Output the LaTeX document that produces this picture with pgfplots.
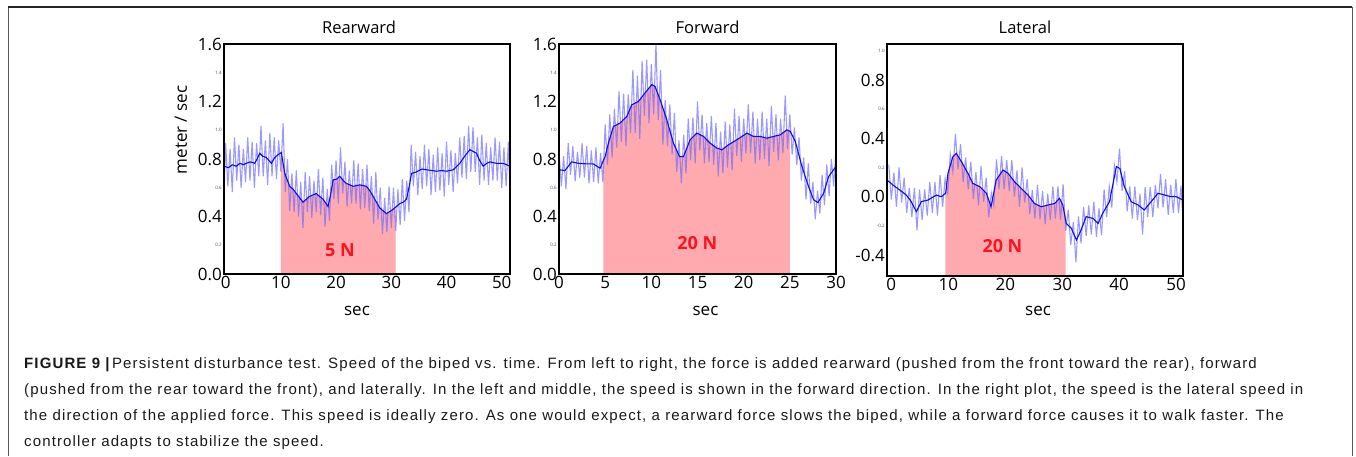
\documentclass[border=0pt]{standalone}
\usepackage{pgfplots}
\pgfplotsset{compat=1.18}
\usepackage{fontspec}
\setmainfont{Liberation Sans}
\newfontfamily\plotfont{Open Sans}
\newfontfamily\capfont[LetterSpace=7.5]{Liberation Sans}
\definecolor{fillpink}{RGB}{255,170,175}
\definecolor{lightline}{RGB}{110,110,255}
\definecolor{darkline}{RGB}{10,10,235}
\definecolor{redtxt}{RGB}{250,20,30}
\pgfplotsset{
  myaxis/.style={
    scale only axis, anchor=south west,
    axis line style={line width=1.5pt, black},
    major tick length=0pt,
    tick label style={font=\plotfont\fontsize{17}{17}\selectfont, inner sep=2pt},
    extra y tick style={tick label style={font=\plotfont\fontsize{4.5}{5}\selectfont, text=black!70}},
    title style={font=\plotfont\fontsize{16.5}{17}\selectfont, at={(0.5,1)}, anchor=base, yshift=5pt},
    xlabel style={font=\plotfont\fontsize{17}{17}\selectfont, inner sep=0pt, at={(0.5,0)}, anchor=base, yshift=-41pt},
    axis on top,
  },
  noisy/.style={lightline, line width=1.1pt, opacity=0.7, no marks},
  smooth1/.style={darkline, line width=1.1pt, no marks},
}
\begin{document}
\begin{tikzpicture}[x=1pt,y=1pt]
\useasboundingbox (0,0) rectangle (1356,-456);
% frame
\draw[black!65, line width=0.9pt] (8,-7) -- (8,-456);
\draw[black!65, line width=0.9pt] (1352,-7) -- (1352,-456);
\draw[black!85, line width=1.3pt] (8,-7) -- (1352,-7);

% ---------------- Rearward ----------------
\begin{axis}[myaxis, at={(224pt,-274pt)}, width=286pt, height=230pt,
  xmin=-0.3, xmax=51.5, ymin=0, ymax=1.6,
  xtick={0,10,20,30,40,50}, xticklabels={0,10,20,30,40,50},
  ytick={0,0.4,0.8,1.2,1.6}, yticklabels={0.0,0.4,0.8,1.2,1.6},
  extra y ticks={0.2,0.6,1.0,1.4}, extra y tick labels={0.2,0.6,1.0,1.4},
  title={Rearward}, title style={xshift=-8pt}, xlabel={sec}, xlabel style={xshift=-10pt}]
\addplot[fill=fillpink, draw=none] coordinates {(10.0,0)(10.0,0.84)(10.09,0.845)(10.7,0.70)(11.6,0.61)(12.2,0.59)(12.8,0.56)(13.4,0.53)(14.0,0.50)(14.6,0.52)(15.2,0.54)(16.4,0.56)(17.0,0.54)(17.65,0.52)(18.55,0.47)(19.0,0.55)(19.46,0.655)(20.1,0.66)(20.67,0.68)(21.3,0.65)(21.87,0.63)(22.5,0.62)(23.08,0.61)(24.29,0.62)(25.5,0.61)(26.1,0.58)(26.71,0.54)(27.3,0.50)(27.92,0.46)(28.5,0.44)(29.13,0.42)(30.33,0.45)(30.8,0.465)(30.8,0)} -- cycle;
\addplot[noisy] coordinates {(-0.3,0.56)(0,0.91)(0.4,0.61)(0.8,0.87)(1.2,0.57)(1.6,0.95)(2,0.65)(2.4,0.90)(2.8,0.60)(3.2,0.87)(3.6,0.64)(4,0.95)(4.4,0.65)(4.8,0.92)(5.2,0.60)(5.6,0.91)(6,0.68)(6.4,1.03)(6.8,0.68)(7.2,0.93)(7.6,0.62)(8,0.98)(8.4,0.68)(8.8,0.95)(9.2,0.66)(9.6,0.93)(10,0.71)(10.4,1.05)(10.8,0.57)(11.2,0.80)(11.6,0.44)(12,0.70)(12.4,0.43)(12.8,0.72)(13.2,0.40)(13.6,0.64)(14,0.32)(14.4,0.71)(14.8,0.43)(15.2,0.68)(15.6,0.39)(16,0.65)(16.4,0.43)(16.8,0.73)(17.2,0.41)(17.6,0.67)(18,0.33)(18.4,0.59)(18.8,0.37)(19.2,0.76)(19.6,0.52)(20,0.79)(20.4,0.49)(20.8,0.88)(21.2,0.56)(21.6,0.78)(22,0.47)(22.4,0.72)(22.8,0.49)(23.2,0.79)(23.6,0.49)(24,0.77)(24.4,0.45)(24.8,0.73)(25.2,0.46)(25.6,0.76)(26,0.44)(26.4,0.68)(26.8,0.35)(27.2,0.71)(27.6,0.38)(28,0.60)(28.4,0.28)(28.8,0.53)(29.2,0.29)(29.6,0.61)(30,0.32)(30.4,0.60)(30.8,0.30)(31.2,0.59)(31.6,0.34)(32,0.66)(32.4,0.37)(32.8,0.65)(33.2,0.43)(33.6,0.90)(34,0.61)(34.4,0.85)(34.8,0.55)(35.2,0.82)(35.6,0.59)(36,0.90)(36.4,0.61)(36.8,0.87)(37.2,0.55)(37.6,0.83)(38,0.57)(38.4,0.88)(38.8,0.58)(39.2,0.84)(39.6,0.54)(40,0.92)(40.4,0.62)(40.8,0.86)(41.2,0.57)(41.6,0.84)(42,0.63)(42.4,0.95)(42.8,0.67)(43.2,0.96)(43.6,0.66)(44,1.03)(44.4,0.71)(44.8,1.02)(45.2,0.71)(45.6,0.95)(46,0.62)(46.4,0.97)(46.8,0.65)(47.2,0.91)(47.6,0.62)(48,0.88)(48.4,0.65)(48.8,0.95)(49.2,0.65)(49.6,0.92)(50,0.60)(50.4,0.88)(50.8,0.61)(51.2,0.92)(51.5,0.56)};
\addplot[smooth1] coordinates {(-0.3,0.75)(0.5,0.74)(1.2,0.76)(1.9,0.75)(2.6,0.77)(3.2,0.76)(3.75,0.77)(4.5,0.78)(5.26,0.77)(5.7,0.80)(6.17,0.84)(6.7,0.82)(7.37,0.81)(8.28,0.77)(8.88,0.81)(9.49,0.83)(10.09,0.845)(10.7,0.70)(11.6,0.61)(12.2,0.59)(12.8,0.56)(13.4,0.53)(14.0,0.50)(14.6,0.52)(15.2,0.54)(16.4,0.56)(17.0,0.54)(17.65,0.52)(18.55,0.47)(19.0,0.55)(19.46,0.655)(20.1,0.66)(20.67,0.68)(21.3,0.65)(21.87,0.63)(22.5,0.62)(23.08,0.61)(24.29,0.62)(25.5,0.61)(26.1,0.58)(26.71,0.54)(27.3,0.50)(27.92,0.46)(28.5,0.44)(29.13,0.42)(30.33,0.45)(31.54,0.49)(32.2,0.50)(32.75,0.52)(33.2,0.60)(33.66,0.70)(34.56,0.71)(35.5,0.73)(36.38,0.725)(37.3,0.72)(38.19,0.715)(39.1,0.72)(40.0,0.715)(41.21,0.725)(42.42,0.77)(43.3,0.82)(44.23,0.865)(45.44,0.84)(46.0,0.79)(46.65,0.75)(47.3,0.77)(47.86,0.78)(49.07,0.77)(50.27,0.77)(51.48,0.75)};
\node[font=\plotfont\bfseries\fontsize{18}{18}\selectfont, text=redtxt] at (axis cs:20.7,0.167) {5 N};
\end{axis}
\node[rotate=90, font=\plotfont\fontsize{17}{17}\selectfont] at (181,-130) {meter / sec};

% ---------------- Forward ----------------
\begin{axis}[myaxis, at={(559pt,-274pt)}, width=277pt, height=230pt,
  xmin=0, xmax=30, ymin=0, ymax=1.6,
  xtick={0,5,10,15,20,25,30}, xticklabels={0,5,10,15,20,25,30},
  ytick={0,0.4,0.8,1.2,1.6}, yticklabels={0.0,0.4,0.8,1.2,1.6},
  extra y ticks={0.2,0.6,1.0,1.4}, extra y tick labels={0.2,0.6,1.0,1.4},
  title={Forward}, title style={xshift=10pt}, xlabel={sec}, xlabel style={xshift=8pt}]
\addplot[fill=fillpink, draw=none] coordinates {(4.8,0)(4.8,0.79)(4.99,0.817)(5.35,0.91)(5.89,1.026)(6.61,1.05)(7.34,1.096)(7.88,1.177)(8.6,1.20)(9.32,1.26)(10.05,1.317)(10.4,1.305)(10.95,1.212)(11.67,1.073)(12.4,0.91)(13.05,0.817)(13.48,0.817)(14.2,0.934)(14.93,0.98)(15.65,0.957)(16.37,0.91)(17.09,0.876)(17.64,0.864)(18.36,0.899)(19.26,0.934)(20.35,0.98)(21.07,0.957)(21.79,0.957)(22.5,0.945)(23.24,0.957)(23.96,0.968)(24.68,1.003)(25.0,0.993)(25.0,0)} -- cycle;
\addplot[noisy] coordinates {(0,0.855)(0.25,0.61)(0.5,0.82)(0.75,0.59)(1,0.91)(1.25,0.69)(1.5,0.89)(1.75,0.645)(2,0.85)(2.25,0.67)(2.5,0.91)(2.75,0.67)(3,0.89)(3.25,0.63)(3.5,0.86)(3.75,0.64)(4,0.88)(4.25,0.63)(4.5,0.84)(4.75,0.64)(5,1.04)(5.25,0.76)(5.5,1.11)(5.75,0.81)(6,1.15)(6.25,0.88)(6.5,1.27)(6.75,0.92)(7,1.255)(7.25,0.89)(7.5,1.25)(7.75,0.98)(8,1.42)(8.25,0.98)(8.5,1.38)(8.75,0.94)(9,1.48)(9.25,1.10)(9.5,1.49)(9.75,1.05)(10,1.46)(10.25,1.11)(10.5,1.60)(10.75,1.07)(11,1.42)(11.25,0.90)(11.5,1.21)(11.75,0.89)(12,1.18)(12.25,0.83)(12.5,1.12)(12.75,0.71)(13,0.93)(13.25,0.63)(13.5,0.97)(13.75,0.70)(14,1.08)(14.25,0.79)(14.5,1.09)(14.75,0.77)(15,1.20)(15.25,0.86)(15.5,1.11)(15.75,0.77)(16,1.05)(16.25,0.78)(16.5,1.10)(16.75,0.76)(17,1.05)(17.25,0.68)(17.5,0.99)(17.75,0.70)(18,1.06)(18.25,0.74)(18.5,1.04)(18.75,0.72)(19,1.15)(19.25,0.82)(19.5,1.10)(19.75,0.78)(20,1.08)(20.25,0.84)(20.5,1.18)(20.75,0.84)(21,1.13)(21.25,0.77)(21.5,1.08)(21.75,0.79)(22,1.13)(22.25,0.80)(22.5,1.08)(22.75,0.75)(23,1.17)(23.25,0.85)(23.5,1.11)(23.75,0.79)(24,1.08)(24.25,0.84)(24.5,1.24)(24.75,0.87)(25,1.11)(25.25,0.83)(25.5,1.02)(25.75,0.76)(26,0.95)(26.25,0.65)(26.5,0.81)(26.75,0.52)(27,0.77)(27.25,0.49)(27.5,0.64)(27.75,0.38)(28,0.58)(28.25,0.42)(28.5,0.69)(28.75,0.48)(29,0.76)(29.25,0.54)(29.5,0.80)(29.75,0.61)(30,0.88)};
\addplot[smooth1] coordinates {(0,0.725)(0.65,0.72)(1.37,0.78)(2.1,0.77)(3.0,0.766)(3.7,0.766)(4.45,0.736)(4.99,0.817)(5.35,0.91)(5.89,1.026)(6.61,1.05)(7.34,1.096)(7.88,1.177)(8.6,1.20)(9.32,1.26)(10.05,1.317)(10.4,1.305)(10.95,1.212)(11.67,1.073)(12.4,0.91)(13.05,0.817)(13.48,0.817)(14.2,0.934)(14.93,0.98)(15.65,0.957)(16.37,0.91)(17.09,0.876)(17.64,0.864)(18.36,0.899)(19.26,0.934)(20.35,0.98)(21.07,0.957)(21.79,0.957)(22.5,0.945)(23.24,0.957)(23.96,0.968)(24.68,1.003)(25.05,0.992)(25.59,0.922)(26.31,0.748)(27.03,0.608)(27.58,0.516)(28.04,0.497)(28.66,0.562)(29.2,0.678)(30,0.748)};
\node[font=\plotfont\bfseries\fontsize{18}{18}\selectfont, text=redtxt] at (axis cs:14.97,0.216) {20 N};
\end{axis}

% ---------------- Lateral ----------------
\begin{axis}[myaxis, at={(887pt,-276pt)}, width=296pt, height=232pt,
  xmin=-0.76, xmax=51.2, ymin=-0.544, ymax=1.047,
  xtick={0,10,20,30,40,50}, xticklabels={0,10,20,30,40,50},
  ytick={-0.4,0,0.4,0.8}, yticklabels={-0.4,0.0,0.4,0.8},
  extra y ticks={-0.2,0.2,0.6,1.0}, extra y tick labels={-0.2,0.2,0.6,1.0},
  title={Lateral}, title style={xshift=-10pt}, xlabel={sec}, xlabel style={xshift=3pt, yshift=2pt}]
\addplot[fill=fillpink, draw=none] coordinates {(9.47,-0.6)(9.47,0.02)(9.53,0.023)(9.94,0.16)(10.8,0.274)(11.4,0.297)(12.3,0.24)(13.45,0.16)(14.3,0.091)(15.5,0.069)(16.7,0.023)(17.5,-0.069)(18.4,0.114)(19.6,0.183)(20.5,0.16)(21.6,0.103)(22.8,0.057)(24.0,0.011)(25.1,-0.046)(26.3,-0.069)(27.5,-0.057)(28.7,-0.046)(29.5,-0.011)(30.1,-0.057)(30.6,-0.16)(30.6,-0.6)} -- cycle;
\addplot[noisy] coordinates {(-0.45,0.22)(0,-0.02)(0.45,0.165)(0.9,-0.07)(1.35,0.20)(1.8,-0.04)(2.25,0.13)(2.7,-0.11)(3.15,0.06)(3.6,-0.14)(4.05,0.06)(4.5,-0.23)(4.95,0.05)(5.4,-0.16)(5.85,0.05)(6.3,-0.13)(6.75,0.10)(7.2,-0.11)(7.65,0.10)(8.1,-0.13)(8.55,0.15)(9,-0.07)(9.45,0.125)(9.9,0.025)(10.35,0.29)(10.8,0.17)(11.25,0.43)(11.7,0.19)(12.15,0.36)(12.6,0.10)(13.05,0.27)(13.5,0.05)(13.95,0.24)(14.4,-0.015)(14.85,0.17)(15.3,-0.06)(15.75,0.21)(16.2,-0.035)(16.65,0.13)(17.1,-0.14)(17.55,0.025)(18,-0.06)(18.45,0.255)(18.9,0.05)(19.35,0.28)(19.8,0.05)(20.25,0.25)(20.7,0.04)(21.15,0.25)(21.6,0)(22.05,0.18)(22.5,-0.07)(22.95,0.20)(23.4,-0.04)(23.85,0.12)(24.3,-0.12)(24.75,0.045)(25.2,-0.15)(25.65,0.08)(26.1,-0.155)(26.55,0.04)(27,-0.19)(27.45,0.02)(27.9,-0.16)(28.35,0.07)(28.8,-0.15)(29.25,0.07)(29.7,-0.16)(30.15,0.085)(30.6,-0.235)(31.05,-0.09)(31.5,-0.33)(31.95,-0.175)(32.4,-0.45)(32.85,-0.135)(33.3,-0.32)(33.75,-0.07)(34.2,-0.27)(34.65,-0.06)(35.1,-0.26)(35.55,-0.035)(36,-0.275)(36.45,-0.08)(36.9,-0.265)(37.35,0.05)(37.8,-0.14)(38.25,0.07)(38.7,-0.075)(39.15,0.215)(39.6,0.10)(40.05,0.33)(40.5,0.04)(40.95,0.175)(41.4,-0.10)(41.85,0.07)(42.3,-0.15)(42.75,0.07)(43.2,-0.16)(43.65,0.02)(44.1,-0.26)(44.55,0.065)(45,-0.14)(45.45,0.065)(45.9,-0.14)(46.35,0.08)(46.8,-0.08)(47.25,0.155)(47.7,-0.075)(48.15,0.12)(48.6,-0.125)(49.05,0.08)(49.5,-0.11)(49.95,0.12)(50.4,-0.11)(50.85,0.075)(51.2,-0.16)};
\addplot[smooth1] coordinates {(-0.76,0.114)(0.29,0.08)(1.46,0.046)(2.63,0.011)(3.5,-0.034)(4.39,-0.103)(5.26,-0.034)(6.43,-0.023)(7.9,0.011)(8.77,0)(9.53,0.023)(9.94,0.16)(10.8,0.274)(11.4,0.297)(12.3,0.24)(13.45,0.16)(14.3,0.091)(15.5,0.069)(16.7,0.023)(17.5,-0.069)(18.4,0.114)(19.6,0.183)(20.5,0.16)(21.6,0.103)(22.8,0.057)(24.0,0.011)(25.1,-0.046)(26.3,-0.069)(27.5,-0.057)(28.7,-0.046)(29.5,-0.011)(30.1,-0.057)(30.7,-0.183)(31.6,-0.217)(32.5,-0.297)(33.3,-0.229)(34.2,-0.137)(35.4,-0.149)(36.3,-0.183)(37.1,-0.114)(38.3,-0.034)(39.5,0.206)(40.1,0.194)(40.9,0.069)(42.1,-0.034)(43.3,-0.057)(44.4,-0.091)(45.6,-0.034)(46.8,0.023)(48.0,0.011)(49.1,0)(50,0)(51.2,-0.023)};
\node[font=\plotfont\bfseries\fontsize{18}{18}\selectfont, text=redtxt] at (axis cs:19.5,-0.338) {20 N};
\end{axis}

% ---------------- caption ----------------
\begin{scope}[every node/.style={anchor=base west, inner sep=0pt, font=\capfont\fontsize{15}{18}\selectfont, text=black!90}]
\node at (24,-368) {{\bfseries FIGURE 9 |}\,Persistent disturbance test. Speed of the biped vs. time. From left to right, the force is added rearward (pushed from the front toward the rear), forward};
\node at (24,-394) {(pushed from the rear toward the front), and laterally. In the left and middle, the speed is shown in the forward direction. In the right plot, the speed is the lateral speed in};
\node at (24,-420) {the direction of the applied force. This speed is ideally zero. As one would expect, a rearward force slows the biped, while a forward force causes it to walk faster. The};
\node at (24,-446) {controller adapts to stabilize the speed.};
\end{scope}
\end{tikzpicture}
\end{document}
